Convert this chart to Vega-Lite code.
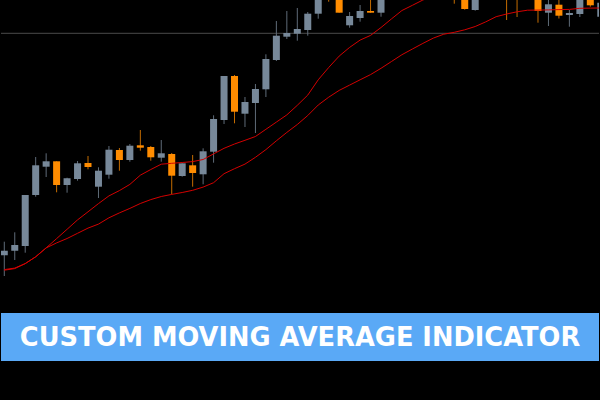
{
  "$schema": "https://vega.github.io/schema/vega-lite/v6.json",
  "width": 600,
  "height": 400,
  "autosize": {"type": "fit", "contains": "padding"},
  "padding": 0,
  "background": "#000000",
  "config": {"view": {"stroke": null}, "axis": {"disable": true}},
  "datasets": {
    "candles": [
      {"i": 0, "open": 144.7, "high": 158.3, "low": 124, "close": 149.3},
      {"i": 1, "open": 149.3, "high": 167.7, "low": 140, "close": 155},
      {"i": 2, "open": 154, "high": 205, "low": 147.3, "close": 205},
      {"i": 3, "open": 205, "high": 243, "low": 203.3, "close": 234.7},
      {"i": 4, "open": 233.3, "high": 246.7, "low": 223, "close": 238.7},
      {"i": 5, "open": 238.7, "high": 238.7, "low": 207.7, "close": 215},
      {"i": 6, "open": 215, "high": 222.3, "low": 207.3, "close": 221.7},
      {"i": 7, "open": 221, "high": 239, "low": 219.3, "close": 236.7},
      {"i": 8, "open": 237, "high": 244, "low": 230.7, "close": 233},
      {"i": 9, "open": 213.3, "high": 232.7, "low": 202, "close": 229.3},
      {"i": 10, "open": 225.3, "high": 254, "low": 221.3, "close": 250.3},
      {"i": 11, "open": 250, "high": 252, "low": 229.3, "close": 240},
      {"i": 12, "open": 240, "high": 256, "low": 238.3, "close": 254.3},
      {"i": 13, "open": 254.7, "high": 270, "low": 249.3, "close": 252.3},
      {"i": 14, "open": 253, "high": 254, "low": 239.3, "close": 242.7},
      {"i": 15, "open": 242.3, "high": 260, "low": 238.3, "close": 246.7},
      {"i": 16, "open": 246, "high": 247, "low": 205.7, "close": 224.3},
      {"i": 17, "open": 224, "high": 236.7, "low": 223.3, "close": 236.7},
      {"i": 18, "open": 234.7, "high": 245, "low": 213.3, "close": 227},
      {"i": 19, "open": 225.7, "high": 251.7, "low": 215.7, "close": 248.7},
      {"i": 20, "open": 248.3, "high": 284.7, "low": 237.3, "close": 281},
      {"i": 21, "open": 280, "high": 324, "low": 276, "close": 324},
      {"i": 22, "open": 324, "high": 325, "low": 276.7, "close": 288.3},
      {"i": 23, "open": 286.3, "high": 303, "low": 273, "close": 298},
      {"i": 24, "open": 297, "high": 316, "low": 267, "close": 311},
      {"i": 25, "open": 310.7, "high": 345.7, "low": 303, "close": 341},
      {"i": 26, "open": 340, "high": 379, "low": 339, "close": 364.3},
      {"i": 27, "open": 363.3, "high": 389, "low": 361, "close": 367},
      {"i": 28, "open": 366.3, "high": 392, "low": 359.3, "close": 371},
      {"i": 29, "open": 370, "high": 388, "low": 364.3, "close": 386.3},
      {"i": 30, "open": 386.3, "high": 412, "low": 381.3, "close": 408},
      {"i": 31, "open": 420, "high": 424, "low": 398.3, "close": 404},
      {"i": 32, "open": 412, "high": 415, "low": 387.3, "close": 387.3},
      {"i": 33, "open": 374.7, "high": 388, "low": 372.3, "close": 384},
      {"i": 34, "open": 382, "high": 395, "low": 378.3, "close": 389},
      {"i": 35, "open": 389, "high": 405, "low": 387.3, "close": 387.3},
      {"i": 36, "open": 387.3, "high": 410, "low": 383.3, "close": 405},
      {"i": 43, "open": 420, "high": 425, "low": 396.3, "close": 410},
      {"i": 44, "open": 410, "high": 415, "low": 390.3, "close": 391},
      {"i": 45, "open": 390, "high": 412, "low": 389.3, "close": 408},
      {"i": 48, "open": 412, "high": 416, "low": 380, "close": 403},
      {"i": 49, "open": 415, "high": 418, "low": 383, "close": 404},
      {"i": 51, "open": 405, "high": 408, "low": 377.3, "close": 389},
      {"i": 52, "open": 387.3, "high": 402, "low": 374, "close": 395.7},
      {"i": 53, "open": 395.3, "high": 402, "low": 381.5, "close": 384.3},
      {"i": 54, "open": 385, "high": 390, "low": 373.3, "close": 387},
      {"i": 55, "open": 386, "high": 405, "low": 383, "close": 402},
      {"i": 56, "open": 402, "high": 404, "low": 393.3, "close": 394.7},
      {"i": 57, "open": 383.3, "high": 399, "low": 381, "close": 397.3}
    ],
    "ma": [
      {"i": 0, "series": "fast", "v": 130.4}, {"i": 1, "series": "fast", "v": 131.9}, {"i": 2, "series": "fast", "v": 136.4},
      {"i": 3, "series": "fast", "v": 143.2}, {"i": 4, "series": "fast", "v": 152.1}, {"i": 5, "series": "fast", "v": 161.4},
      {"i": 6, "series": "fast", "v": 170.7}, {"i": 7, "series": "fast", "v": 180.1}, {"i": 8, "series": "fast", "v": 188.2},
      {"i": 9, "series": "fast", "v": 196.4}, {"i": 10, "series": "fast", "v": 204.1}, {"i": 11, "series": "fast", "v": 209.4},
      {"i": 12, "series": "fast", "v": 215.6}, {"i": 13, "series": "fast", "v": 224.8}, {"i": 14, "series": "fast", "v": 230.5},
      {"i": 15, "series": "fast", "v": 235.8}, {"i": 16, "series": "fast", "v": 236.7}, {"i": 17, "series": "fast", "v": 237.5},
      {"i": 18, "series": "fast", "v": 238.4}, {"i": 19, "series": "fast", "v": 240.5}, {"i": 20, "series": "fast", "v": 246.1},
      {"i": 21, "series": "fast", "v": 251.7}, {"i": 22, "series": "fast", "v": 256.0}, {"i": 23, "series": "fast", "v": 259.7},
      {"i": 24, "series": "fast", "v": 263.5}, {"i": 25, "series": "fast", "v": 270.7}, {"i": 26, "series": "fast", "v": 277.9},
      {"i": 27, "series": "fast", "v": 285.1}, {"i": 28, "series": "fast", "v": 294.7}, {"i": 29, "series": "fast", "v": 304.9},
      {"i": 30, "series": "fast", "v": 320.2}, {"i": 31, "series": "fast", "v": 332.5}, {"i": 32, "series": "fast", "v": 343.9},
      {"i": 33, "series": "fast", "v": 352.6}, {"i": 34, "series": "fast", "v": 359.9}, {"i": 35, "series": "fast", "v": 364.6},
      {"i": 36, "series": "fast", "v": 372.5}, {"i": 37, "series": "fast", "v": 381.1}, {"i": 38, "series": "fast", "v": 389.5},
      {"i": 39, "series": "fast", "v": 394.7}, {"i": 40, "series": "fast", "v": 400}, {"i": 41, "series": "fast", "v": 404},
      {"i": 0, "series": "slow", "v": 129.8}, {"i": 1, "series": "slow", "v": 131.4}, {"i": 2, "series": "slow", "v": 136.4},
      {"i": 3, "series": "slow", "v": 143.2}, {"i": 4, "series": "slow", "v": 152.1}, {"i": 5, "series": "slow", "v": 157.1},
      {"i": 6, "series": "slow", "v": 161.5}, {"i": 7, "series": "slow", "v": 166.7}, {"i": 8, "series": "slow", "v": 171.9},
      {"i": 9, "series": "slow", "v": 175.9}, {"i": 10, "series": "slow", "v": 182.2}, {"i": 11, "series": "slow", "v": 187.1},
      {"i": 12, "series": "slow", "v": 191.6}, {"i": 13, "series": "slow", "v": 196.5}, {"i": 14, "series": "slow", "v": 200.4},
      {"i": 15, "series": "slow", "v": 203.5}, {"i": 16, "series": "slow", "v": 205.6}, {"i": 17, "series": "slow", "v": 207.5},
      {"i": 18, "series": "slow", "v": 209.7}, {"i": 19, "series": "slow", "v": 212.9}, {"i": 20, "series": "slow", "v": 217.3},
      {"i": 21, "series": "slow", "v": 226.3}, {"i": 22, "series": "slow", "v": 231.3}, {"i": 23, "series": "slow", "v": 235.9},
      {"i": 24, "series": "slow", "v": 242.7}, {"i": 25, "series": "slow", "v": 250.4}, {"i": 26, "series": "slow", "v": 259.2},
      {"i": 27, "series": "slow", "v": 267.6}, {"i": 28, "series": "slow", "v": 275.5}, {"i": 29, "series": "slow", "v": 284.5},
      {"i": 30, "series": "slow", "v": 295.0}, {"i": 31, "series": "slow", "v": 302.8}, {"i": 32, "series": "slow", "v": 309.6},
      {"i": 33, "series": "slow", "v": 314.9}, {"i": 34, "series": "slow", "v": 320.2}, {"i": 35, "series": "slow", "v": 325.4},
      {"i": 36, "series": "slow", "v": 331.7}, {"i": 37, "series": "slow", "v": 338.5}, {"i": 38, "series": "slow", "v": 345.3},
      {"i": 39, "series": "slow", "v": 351.0}, {"i": 40, "series": "slow", "v": 356.6}, {"i": 41, "series": "slow", "v": 361.9},
      {"i": 42, "series": "slow", "v": 365.8}, {"i": 43, "series": "slow", "v": 367.7}, {"i": 44, "series": "slow", "v": 370.2},
      {"i": 45, "series": "slow", "v": 373.5}, {"i": 46, "series": "slow", "v": 378.1}, {"i": 47, "series": "slow", "v": 383.3},
      {"i": 48, "series": "slow", "v": 386.0}, {"i": 49, "series": "slow", "v": 388.2}, {"i": 50, "series": "slow", "v": 389.8},
      {"i": 51, "series": "slow", "v": 389.9}, {"i": 52, "series": "slow", "v": 390.1}, {"i": 53, "series": "slow", "v": 390.4},
      {"i": 54, "series": "slow", "v": 390.6}, {"i": 55, "series": "slow", "v": 391.7}, {"i": 56, "series": "slow", "v": 391.9},
      {"i": 57, "series": "slow", "v": 392.0}
    ]
  },
  "layer": [
    {
      "data": {"values": [{}]},
      "mark": {"type": "rule", "color": "#4a4a4a", "strokeWidth": 1},
      "encoding": {
        "y": {"datum": 366.7, "type": "quantitative", "scale": {"domain": [0, 400], "nice": false, "zero": false}}
      }
    },
    {
      "data": {"name": "candles"},
      "mark": {"type": "rule", "strokeWidth": 1, "clip": true},
      "encoding": {
        "x": {"field": "i", "type": "quantitative", "scale": {"domain": [-0.314, 56.83], "nice": false, "zero": false, "padding": 0}},
        "y": {"field": "low", "type": "quantitative"},
        "y2": {"field": "high"},
        "color": {"condition": {"test": "datum.close >= datum.open", "value": "#5f6b78"}, "value": "#c46c00"}
      }
    },
    {
      "data": {"name": "candles"},
      "mark": {"type": "bar", "width": 7, "clip": true},
      "encoding": {
        "x": {"field": "i", "type": "quantitative"},
        "y": {"field": "open", "type": "quantitative"},
        "y2": {"field": "close"},
        "color": {"condition": {"test": "datum.close >= datum.open", "value": "#778899"}, "value": "#ff8c00"}
      }
    },
    {
      "data": {"name": "ma"},
      "mark": {"type": "line", "strokeWidth": 1, "color": "#d40000", "clip": true, "interpolate": "linear"},
      "encoding": {
        "x": {"field": "i", "type": "quantitative"},
        "y": {"field": "v", "type": "quantitative"},
        "detail": {"field": "series"}
      }
    },
    {
      "data": {"values": [{}]},
      "mark": {"type": "rect", "color": "#5aa9f6"},
      "encoding": {
        "y": {"datum": 39, "type": "quantitative"},
        "y2": {"datum": 87}
      }
    },
    {
      "data": {"values": [{}]},
      "mark": {"type": "text", "color": "#ffffff", "font": "DejaVu Sans", "fontWeight": "bold", "fontSize": 25.7, "align": "center", "baseline": "alphabetic"},
      "encoding": {
        "y": {"datum": 54, "type": "quantitative"},
        "text": {"value": "CUSTOM MOVING AVERAGE INDICATOR"}
      }
    }
  ]
}
